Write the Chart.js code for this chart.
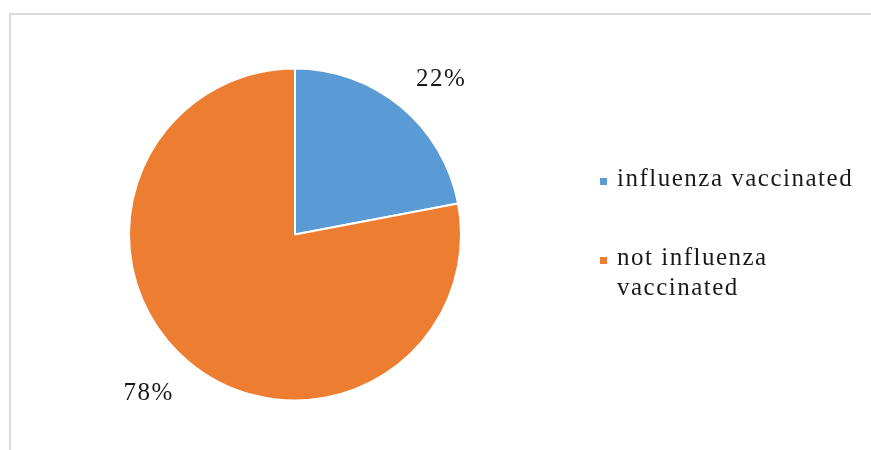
<!DOCTYPE html>
<html lang="en">
<head>
    <meta charset="UTF-8">
    <title>Influenza vaccination</title>
    <script src="https://cdn.jsdelivr.net/npm/chart.js"></script>
    <style>
        body {
            margin: 0;
            background: #fff;
        }
        .wrap {
            position: relative;
            width: 871px;
            height: 450px;
            overflow: hidden;
        }
        .frame {
            position: absolute;
            left: 9px;
            top: 13px;
            width: 900px;
            height: 500px;
            border-left: 2px solid #d9d9d9;
            border-top: 2px solid #d9d9d9;
        }
        .legend {
            position: absolute;
            left: 600px;
            top: 163px;
            width: 268px;
            font-family: 'Liberation Serif', 'Times New Roman', serif;
            font-size: 25px;
            letter-spacing: 1.5px;
            line-height: 30px;
            color: #1a1a1a;
        }
        .legend-item {
            position: relative;
            padding-left: 17px;
            margin-bottom: 49px;
        }
        .legend-box {
            position: absolute;
            left: 0;
            top: 15px;
            width: 7px;
            height: 7px;
        }
    </style>
</head>
<body>
    <div class="wrap">
        <div class="frame"></div>
        <canvas id="pieChart" width="871" height="450"></canvas>
        <div class="legend" id="legend"></div>
    </div>

    <script>
        const categories = ['influenza vaccinated', 'not influenza vaccinated'];
        const shares = [22, 78];
        const sliceColors = ['#5B9BD5', '#ED7D31'];

        // percentage labels outside the slices
        const outsideLabels = {
            id: 'outsideLabels',
            afterDatasetsDraw(chart) {
                const ctx = chart.ctx;
                const meta = chart.getDatasetMeta(0);
                ctx.save();
                ctx.font = '25px "Liberation Serif", "Times New Roman", serif';
                ctx.letterSpacing = '1.5px';
                ctx.fillStyle = '#1a1a1a';
                ctx.textAlign = 'center';
                ctx.textBaseline = 'middle';
                meta.data.forEach((arc, i) => {
                    const p = arc.getProps(['x', 'y', 'startAngle', 'endAngle', 'outerRadius'], true);
                    const mid = (p.startAngle + p.endAngle) / 2;
                    const r = p.outerRadius + 24;
                    const cx = Math.cos(mid), cy = Math.sin(mid);
                    const text = shares[i] + '%';
                    const w = ctx.measureText(text).width;
                    const x = p.x + cx * r + Math.sign(cx) * w / 2;
                    const y = p.y + cy * r + Math.sign(cy) * 11 + 2;
                    ctx.fillText(text, x, y);
                });
                ctx.restore();
            }
        };

        new Chart(document.getElementById('pieChart'), {
            type: 'pie',
            data: {
                labels: categories,
                datasets: [{
                    data: shares,
                    backgroundColor: sliceColors,
                    borderColor: '#fff',
                    borderWidth: 2
                }]
            },
            options: {
                responsive: false,
                animation: false,
                layout: {
                    padding: { left: 128, top: 67, right: 409, bottom: 48 }
                },
                plugins: {
                    legend: { display: false },
                    tooltip: { enabled: false }
                }
            },
            plugins: [outsideLabels]
        });

        // legend built from the same arrays
        const legend = document.getElementById('legend');
        categories.forEach((name, i) => {
            const item = document.createElement('div');
            item.className = 'legend-item';
            const box = document.createElement('span');
            box.className = 'legend-box';
            box.style.background = sliceColors[i];
            item.appendChild(box);
            item.appendChild(document.createTextNode(name));
            legend.appendChild(item);
        });
    </script>
</body>
</html>
